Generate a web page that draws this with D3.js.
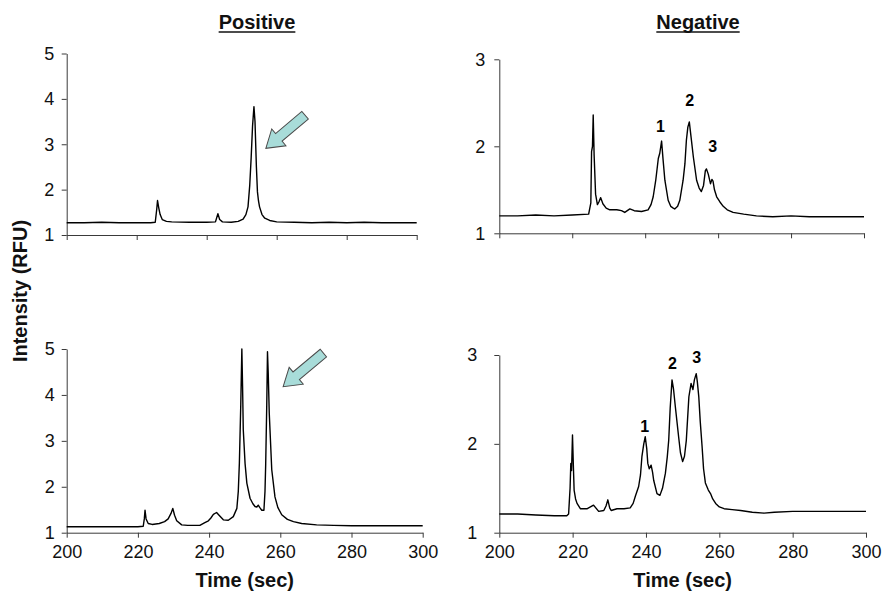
<!DOCTYPE html>
<html>
<head>
<meta charset="utf-8">
<script src="https://cdn.jsdelivr.net/npm/d3@7"></script>
<style>
  html, body { margin: 0; padding: 0; background: #fff; }
  svg { display: block; font-family: "Liberation Sans", Arial, sans-serif; }
</style>
</head>
<body>
<svg id="chart" width="886" height="592"></svg>
<script>
// ---------------- DATA ----------------
const panelTitles = ["Positive", "Negative"];
const xTicks = [200, 220, 240, 260, 280, 300];
const yTicksPositive = [1, 2, 3, 4, 5];
const yTicksNegative = [1, 2, 3];
const peakLabels = ["1", "2", "3"];

// Positive, top trace
const posTopTime = [200,205,210,215,220,224,225.3,225.7,225.95,226.3,226.7,227.3,228.5,230,235,240,242.5,243.2,243.7,244.5,247,249,250.4,251.2,251.8,252.3,252.7,253.1,253.5,253.8,254.2,254.5,254.8,255.1,255.8,256.6,258,260,265,270,275,280,285,290,295,300];
const posTopRFU  = [1.27,1.27,1.28,1.27,1.27,1.27,1.28,1.55,1.76,1.6,1.45,1.34,1.30,1.29,1.28,1.28,1.29,1.47,1.34,1.29,1.28,1.30,1.35,1.45,1.62,2.1,2.7,3.4,3.83,3.5,2.5,1.95,1.75,1.62,1.45,1.37,1.32,1.29,1.28,1.27,1.28,1.27,1.28,1.27,1.27,1.27];

// Negative, top trace
const negTopTime = [200,205,210,215,220,224.5,225.1,225.3,225.55,225.75,226.0,226.4,226.9,227.3,227.8,228.4,229.3,230.3,232.2,233.5,234.4,235.8,237,239,240.8,241.6,242.2,242.9,243.6,244.0,244.5,244.9,245.4,246.3,247.0,247.7,248.1,248.9,249.5,250.4,250.9,251.3,251.7,252.1,252.6,253.2,254.1,254.8,255.4,256.0,256.5,256.8,257.3,257.9,258.3,258.6,259.0,259.6,260.5,261.4,262.5,264.1,267,270.5,275,280,285,290,295,300];
const negTopRFU  = [1.20,1.20,1.21,1.20,1.21,1.22,1.35,1.94,2.0,2.36,1.9,1.45,1.33,1.36,1.41,1.34,1.29,1.27,1.27,1.26,1.24,1.28,1.26,1.25,1.27,1.33,1.42,1.61,1.86,1.92,2.06,1.85,1.61,1.38,1.31,1.29,1.28,1.31,1.38,1.61,1.8,2.07,2.22,2.28,2.1,1.88,1.61,1.52,1.48,1.55,1.72,1.74,1.68,1.57,1.62,1.60,1.50,1.42,1.36,1.31,1.27,1.24,1.22,1.20,1.19,1.20,1.19,1.19,1.19,1.19];

// Positive, bottom trace
const posBotTime = [200,205,210,215,220,221.5,221.8,222.0,222.3,222.9,224,226,227.5,228.5,229.3,229.8,230.3,230.9,232.3,234,237.4,238.8,239.8,240.5,241.2,242.1,242.8,244,245.4,246.8,247.8,248.2,248.5,248.9,249.2,249.4,249.6,250.1,250.6,251.5,252.3,252.9,253.4,253.8,254.2,254.8,255.4,255.7,255.9,256.2,256.4,256.6,256.9,257.6,258.5,259.3,260.4,262,263.7,266,270.2,275,280,285,290,295,300];
const posBotRFU  = [1.13,1.13,1.13,1.13,1.13,1.14,1.3,1.49,1.3,1.20,1.18,1.20,1.24,1.30,1.42,1.53,1.38,1.26,1.17,1.16,1.16,1.22,1.26,1.32,1.40,1.44,1.38,1.28,1.27,1.35,1.53,1.9,2.51,3.8,5.0,4.2,3.24,2.51,2.08,1.75,1.63,1.57,1.56,1.60,1.55,1.49,1.49,1.9,2.5,3.8,4.94,4.5,3.6,2.37,1.78,1.55,1.39,1.29,1.24,1.20,1.17,1.16,1.15,1.15,1.15,1.15,1.15];

// Negative, bottom trace
const negBotTime = [200,205,210,215,218.4,218.9,219.3,219.5,219.7,219.96,220.2,220.4,220.8,221.2,222.1,224,225.7,227.1,228.5,229.1,229.6,230.1,230.5,232.1,234,235.7,236.5,237.1,238,238.5,238.9,239.4,239.8,240.2,240.5,240.9,241.4,241.8,242.1,243,243.8,244.5,245.3,245.8,246.2,246.6,247.1,247.5,248,248.9,249.4,250,250.5,251,251.3,251.7,252.3,252.8,253.2,253.7,254.0,254.4,254.8,255.3,255.7,256.2,257,257.6,258.2,259,260,261.3,263.5,265.8,269,272.2,275,280,285,290,295,300];
const negBotRFU  = [1.21,1.21,1.20,1.19,1.19,1.21,1.5,1.78,1.7,2.10,1.75,1.48,1.38,1.33,1.27,1.27,1.31,1.24,1.25,1.30,1.37,1.28,1.25,1.27,1.27,1.28,1.33,1.41,1.52,1.65,1.86,2.0,2.08,1.95,1.78,1.72,1.76,1.68,1.59,1.44,1.42,1.5,1.67,1.85,2.04,2.4,2.72,2.62,2.42,2.08,1.9,1.80,1.86,2.04,2.25,2.53,2.68,2.61,2.72,2.79,2.7,2.53,2.25,1.97,1.72,1.56,1.48,1.44,1.38,1.33,1.29,1.27,1.26,1.25,1.23,1.22,1.23,1.24,1.24,1.24,1.24,1.24];

// Peak label anchors (time, RFU)
const negTopLabelTime = [244.2, 252.2, 258.5];
const negTopLabelRFU  = [2.225, 2.53, 2.0];
const negBotLabelTime = [239.65, 247.2, 253.8];
const negBotLabelRFU  = [2.20, 2.91, 2.98];

// Arrow anchors (tail -> tip), in data units
const posTopArrow = {tail: [268.1, 3.64], tip: [256.9, 2.91]};
const posBotArrow = {tail: [272.1, 4.91], tip: [260.8, 4.18]};

// ---------------- LAYOUT ----------------
const svg = d3.select("#chart");
const panels = [
  {time: posTopTime, rfu: posTopRFU, xr: [66.7, 416.7], yr: [235, 53.5], yd: [1, 5], yt: yTicksPositive, xLabels: false, yPad: 7.4, arrow: posTopArrow},
  {time: negTopTime, rfu: negTopRFU, xr: [499.3, 864], yr: [233.3, 59.3], yd: [1, 3], yt: yTicksNegative, xLabels: false, yPad: 9, lt: negTopLabelTime, lv: negTopLabelRFU},
  {time: posBotTime, rfu: posBotRFU, xr: [66.7, 422.7], yr: [532.7, 349], yd: [1, 5], yt: yTicksPositive, xLabels: true, yPad: 7, arrow: posBotArrow},
  {time: negBotTime, rfu: negBotRFU, xr: [499.3, 866], yr: [532.7, 355], yd: [1, 3], yt: yTicksNegative, xLabels: true, yPad: 17, lt: negBotLabelTime, lv: negBotLabelRFU}
];

panels.forEach(p => {
  const x = d3.scaleLinear().domain([200, 300]).range(p.xr);
  const y = d3.scaleLinear().domain(p.yd).range(p.yr);
  const g = svg.append("g");

  const xa = d3.axisBottom(x).tickValues(xTicks).tickSize(5).tickSizeOuter(0).tickPadding(8)
    .tickFormat(p.xLabels ? d3.format("d") : () => "");
  const gx = g.append("g").attr("transform", `translate(0,${p.yr[0]})`).call(xa);
  const ya = d3.axisLeft(y).tickValues(p.yt).tickSize(5).tickSizeOuter(0).tickPadding(p.yPad).tickFormat(d3.format("d"));
  const gy = g.append("g").attr("transform", `translate(${p.xr[0]},0)`).call(ya);
  [gx, gy].forEach(ax => {
    ax.selectAll("path, line").attr("stroke", "#3a3a3a").attr("stroke-width", 1);
    ax.selectAll("text").attr("fill", "#111").style("font-size", "18px").style("font-family", "Liberation Sans, Arial, sans-serif");
  });

  const pts = p.time.map((t, i) => [t, p.rfu[i]]);
  g.append("path").datum(pts)
    .attr("fill", "none").attr("stroke", "#000").attr("stroke-width", 1.4).attr("stroke-linejoin", "round")
    .attr("d", d3.line().x(d => x(d[0])).y(d => y(d[1])));

  if (p.lt) {
    g.selectAll("text.pk").data(peakLabels).join("text").attr("class", "pk")
      .attr("x", (d, i) => x(p.lt[i])).attr("y", (d, i) => y(p.lv[i]))
      .attr("dy", "0.36em").attr("text-anchor", "middle")
      .style("font-weight", "bold").style("font-size", "16px").attr("fill", "#000").text(d => d);
  }

  if (p.arrow) {
    const [tx, ty] = [x(p.arrow.tail[0]), y(p.arrow.tail[1])];
    const [hx, hy] = [x(p.arrow.tip[0]), y(p.arrow.tip[1])];
    const len = Math.hypot(hx - tx, hy - ty);
    const ang = Math.atan2(hy - ty, hx - tx) * 180 / Math.PI;
    const sw = 5, hw = 11, hl = 17;
    const shape = [[0, -sw], [len - hl, -sw], [len - hl, -hw], [len, 0], [len - hl, hw], [len - hl, sw], [0, sw]];
    g.append("path")
      .attr("d", "M" + shape.map(s => s.join(",")).join("L") + "Z")
      .attr("transform", `translate(${tx},${ty}) rotate(${ang})`)
      .attr("fill", "#a8dcd9").attr("stroke", "#4a4a4a").attr("stroke-width", 1).attr("stroke-linejoin", "miter");
  }
});

const titleX = [257, 698];
panelTitles.forEach((t, i) => {
  const tx = svg.append("text").attr("x", titleX[i]).attr("y", 29).attr("text-anchor", "middle")
    .style("font-weight", "bold").style("font-size", "20px").attr("fill", "#111").text(t);
  const w = tx.node().getComputedTextLength();
  svg.append("line").attr("x1", titleX[i] - w / 2).attr("x2", titleX[i] + w / 2)
    .attr("y1", 32).attr("y2", 32).attr("stroke", "#111").attr("stroke-width", 1.6);
});

svg.append("text").attr("transform", "translate(27,291) rotate(-90)").attr("text-anchor", "middle")
  .style("font-weight", "bold").style("font-size", "20px").attr("fill", "#111").text("Intensity (RFU)");
[(66.7 + 422.7) / 2, (499.3 + 866) / 2].forEach(cx => {
  svg.append("text").attr("x", cx).attr("y", 587).attr("text-anchor", "middle")
    .style("font-weight", "bold").style("font-size", "20px").attr("fill", "#111").text("Time (sec)");
});
</script>
</body>
</html>
